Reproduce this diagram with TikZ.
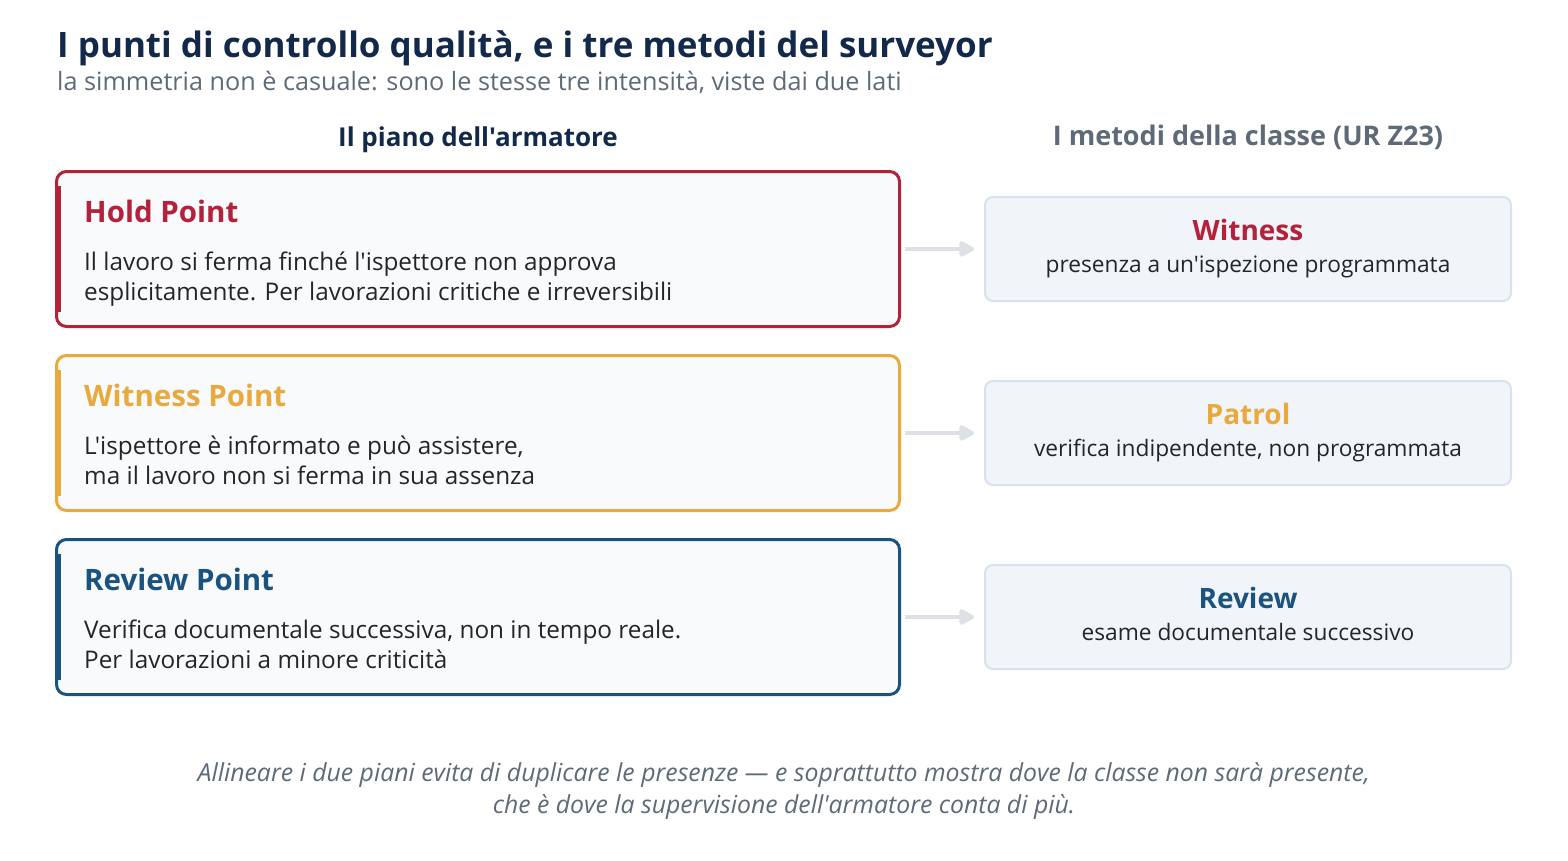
\documentclass[tikz,border=0pt]{standalone}
\usepackage{fontspec}
\setmainfont{Open Sans}[Ligatures=TeXOff]
\usepackage{tikz}
\usetikzlibrary{arrows.meta,positioning}
\usepackage{xcolor}

\definecolor{rosso}{HTML}{B3213A}
\definecolor{ambra}{HTML}{E9A93C}
\definecolor{blu}{HTML}{1B5380}
\definecolor{notte}{HTML}{12294A}
\definecolor{grigio}{HTML}{5E6A78}
\definecolor{testo}{HTML}{22262B}
\definecolor{bordo}{HTML}{D9E2EC}
\definecolor{fondo}{HTML}{F1F5F9}
\definecolor{carta}{HTML}{F9FAFC}
\definecolor{freccia}{HTML}{DDE1E6}

\tikzset{
  puntobox/.style={draw, line width=3pt, fill=carta, rounded corners=10pt,
    minimum width=843pt, minimum height=155pt, inner sep=0pt},
  metodobox/.style={draw=bordo, line width=2pt, fill=fondo, rounded corners=8pt,
    minimum width=526pt, minimum height=104pt, inner sep=0pt},
  frecciagrigia/.style={draw=freccia, line width=4pt,
    -{Triangle[length=17pt,width=17pt,round]}},
}

\begin{document}
\begin{tikzpicture}[x=1pt, y=-1pt]
\useasboundingbox[fill=white] (0,0) rectangle (1568,860);

% Titolo
\node[anchor=base west, inner sep=0pt, text=notte,
  font=\bfseries\fontsize{35}{40}\selectfont] (titolo) at (57,57)
  {I punti di controllo qualità, e i tre metodi del surveyor};
\node[anchor=base west, inner sep=0pt, text=grigio,
  font=\fontsize{25.2}{28}\selectfont] (sottotitolo) at (57,90)
  {la simmetria non è casuale: sono le stesse tre intensità, viste dai due lati};

% Intestazioni delle colonne
\node[anchor=base, inner sep=0pt, text=notte,
  font=\bfseries\fontsize{26}{30}\selectfont] (piano) at (478,146)
  {Il piano dell'armatore};
\node[anchor=base, inner sep=0pt, text=grigio,
  font=\bfseries\fontsize{27}{30}\selectfont] (metodi) at (1248,145)
  {I metodi della classe (UR Z23)};

% Le tre righe: punto dell'armatore, freccia, metodo della classe
\foreach \y/\nom/\col/\tit/\corpo/\met/\mtit/\mdesc in {
  249/hp/rosso/{Hold Point}/{Il lavoro si ferma finché l'ispettore non approva\\esplicitamente. Per lavorazioni critiche e irreversibili}/wit/{Witness}/{presenza a un'ispezione programmata},
  433/wp/ambra/{Witness Point}/{L'ispettore è informato e può assistere,\\ma il lavoro non si ferma in sua assenza}/pat/{Patrol}/{verifica indipendente, non programmata},
  617/rp/blu/{Review Point}/{Verifica documentale successiva, non in tempo reale.\\Per lavorazioni a minore criticità}/rev/{Review}/{esame documentale successivo}}{
    \node[puntobox, draw=\col] (\nom) at (478,\y) {};
    \fill[\col] ([yshift=-16pt]\nom.north west) rectangle ([xshift=6pt,yshift=16pt]\nom.south west);
    \node[anchor=base west, inner sep=0pt, text=\col,
      font=\bfseries\fontsize{29.5}{34}\selectfont] (\nom-t) at ([xshift=29pt,yshift=-52pt]\nom.north west) {\tit};
    % base = ultima riga
    \node[anchor=base west, inner sep=0pt, align=left, text=testo,
      font=\fontsize{24.3}{30.5}\selectfont] (\nom-d) at ([yshift=-78.5pt]\nom-t.base west) {\corpo};
    \node[metodobox] (\met) at (1248,\y) {};
    \node[anchor=base, inner sep=0pt, text=\col,
      font=\bfseries\fontsize{28}{32}\selectfont] (\met-t) at ([yshift=9pt]\met.center) {\mtit};
    \node[anchor=base, inner sep=0pt, text=testo,
      font=\fontsize{22.7}{26}\selectfont] (\met-d) at ([yshift=-23pt]\met.center) {\mdesc};
    \draw[frecciagrigia] ([xshift=3.5pt]\nom.east) -- ([xshift=-10pt]\met.west);
}

% Nota finale
\node[anchor=base, inner sep=0pt, align=center, text=grigio,
  font=\itshape\fontsize{24.8}{32}\selectfont] (nota) at (784,813)
  {Allineare i due piani evita di duplicare le presenze — e soprattutto mostra dove la classe non sarà presente,\\che è dove la supervisione dell'armatore conta di più.};
\end{tikzpicture}
\end{document}
